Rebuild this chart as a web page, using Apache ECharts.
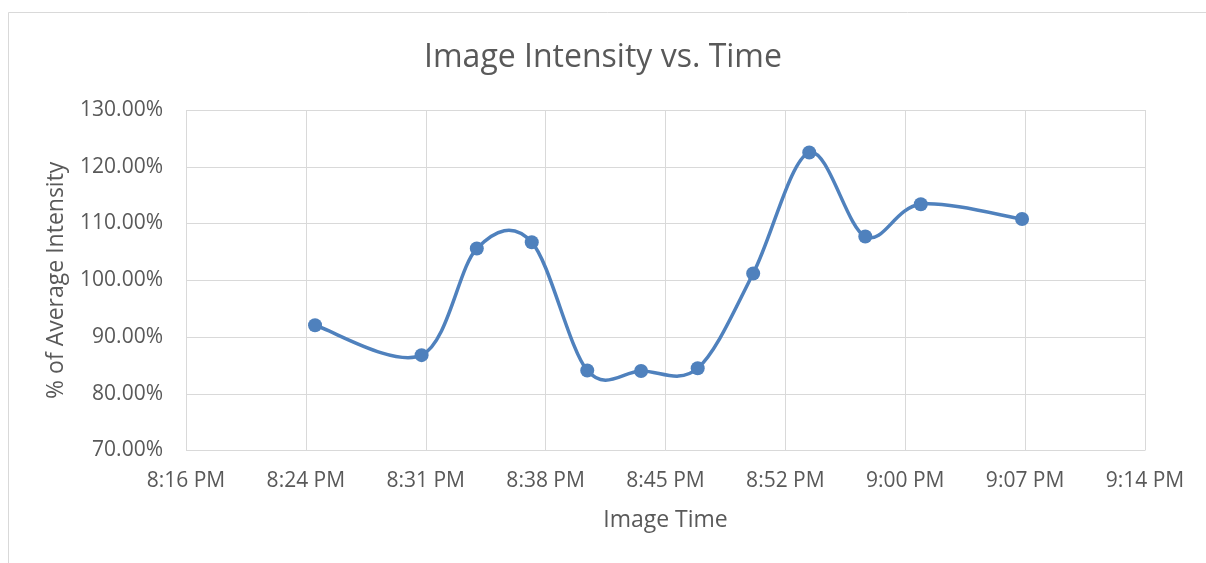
<!DOCTYPE html>
<html>
<head>
<meta charset="utf-8">
<script src="https://cdn.jsdelivr.net/npm/echarts@6/dist/echarts.min.js"></script>
<style>
html,body{margin:0;padding:0;background:#fff;}
#chart{width:1206px;height:563px;}
</style>
</head>
<body>
<div id="chart"></div>
<script>
// Image times (24h clock) and % of average intensity
const imageTimes = ["20:24:33","20:30:57","20:34:16","20:37:34","20:40:54","20:44:08","20:47:32","20:50:52","20:54:14","20:57:36","21:00:56","21:07:01"];
const intensityPct = [92.06, 86.8, 105.6, 106.7, 84.1, 84.0, 84.5, 101.2, 122.5, 107.7, 113.4, 110.8];
// axis range in minutes after midnight (8:16:48 PM to 9:14:24 PM, step 7.2 min)
const xMin = 1216.8, xMax = 1274.4, xStep = 7.2;
const yMin = 70, yMax = 130, yStep = 10;

function toMinutes(s){const p=s.split(":").map(Number);return p[0]*60+p[1]+p[2]/60;}
function fmtTime(v){
  const t=Math.floor(v+1e-6);
  let h=Math.floor(t/60), m=t%60;
  const ampm = h>=12?"PM":"AM";
  h = h%12; if(h===0) h=12;
  return h+":"+(m<10?"0":"")+m+" "+ampm;
}
const seriesData = imageTimes.map((t,i)=>[toMinutes(t), intensityPct[i]]);
const lineColor = '#4F81BD';

// Excel-style smoothed line: cubic Bezier through the data points, tension 1/6
function renderSmooth(params, api){
  if(params.dataIndex !== 0) return null;
  const p = seriesData.map(d=>api.coord(d));
  const n = p.length;
  let d = 'M' + p[0][0] + ' ' + p[0][1];
  for(let i=0;i<n-1;i++){
    const p0 = p[Math.max(i-1,0)], p1 = p[i], p2 = p[i+1], p3 = p[Math.min(i+2,n-1)];
    const c1x = p1[0] + (p2[0]-p0[0])/6, c1y = p1[1] + (p2[1]-p0[1])/6;
    const c2x = p2[0] - (p3[0]-p1[0])/6, c2y = p2[1] - (p3[1]-p1[1])/6;
    d += ' C' + c1x + ' ' + c1y + ' ' + c2x + ' ' + c2y + ' ' + p2[0] + ' ' + p2[1];
  }
  return {type:'path', shape:{pathData:d}, style:{fill:null, stroke:lineColor, lineWidth:3.5, lineJoin:'round'}};
}

const chart = echarts.init(document.getElementById('chart'), null, {renderer:'canvas'});
const txt = '#595959', grid = '#d9d9d9', font = '"Open Sans", "Liberation Sans", sans-serif';
chart.setOption({
  animation:false,
  backgroundColor:'#fff',
  graphic:[{type:'rect', left:6, top:10, shape:{width:1220, height:570}, style:{fill:null, stroke:'#d9d9d9', lineWidth:1}, z:-1}],
  title:{text:'Image Intensity vs. Time', left:'center', top:37, textStyle:{color:txt, fontFamily:font, fontSize:32, fontWeight:'normal'}},
  grid:{left:186, right:61, top:110, bottom:112.5},
  xAxis:{
    type:'value', min:xMin, max:xMax, interval:xStep,
    name:'Image Time', nameLocation:'middle', nameGap:70,
    nameTextStyle:{color:txt, fontFamily:font, fontSize:23, verticalAlign:'middle'},
    axisLine:{show:false}, axisTick:{show:false},
    axisLabel:{color:txt, fontFamily:font, fontSize:21, margin:20, formatter:fmtTime, showMinLabel:true, showMaxLabel:true},
    splitLine:{show:true, lineStyle:{color:grid, width:1}}
  },
  yAxis:{
    type:'value', min:yMin, max:yMax, interval:yStep,
    name:'% of Average Intensity', nameLocation:'middle', nameGap:130,
    nameTextStyle:{color:txt, fontFamily:font, fontSize:23, verticalAlign:'middle'},
    axisLine:{show:false}, axisTick:{show:false},
    axisLabel:{color:txt, fontFamily:font, fontSize:21, margin:23, formatter:v=>v.toFixed(2)+'%'},
    splitLine:{show:true, lineStyle:{color:grid, width:1}}
  },
  series:[{
    type:'custom', data:seriesData, renderItem:renderSmooth,
    encode:{x:0, y:1}, z:2, silent:true
  },{
    type:'scatter', data:seriesData,
    symbol:'circle', symbolSize:14,
    itemStyle:{color:lineColor, opacity:1}, z:3
  }]
});
</script>
</body>
</html>
